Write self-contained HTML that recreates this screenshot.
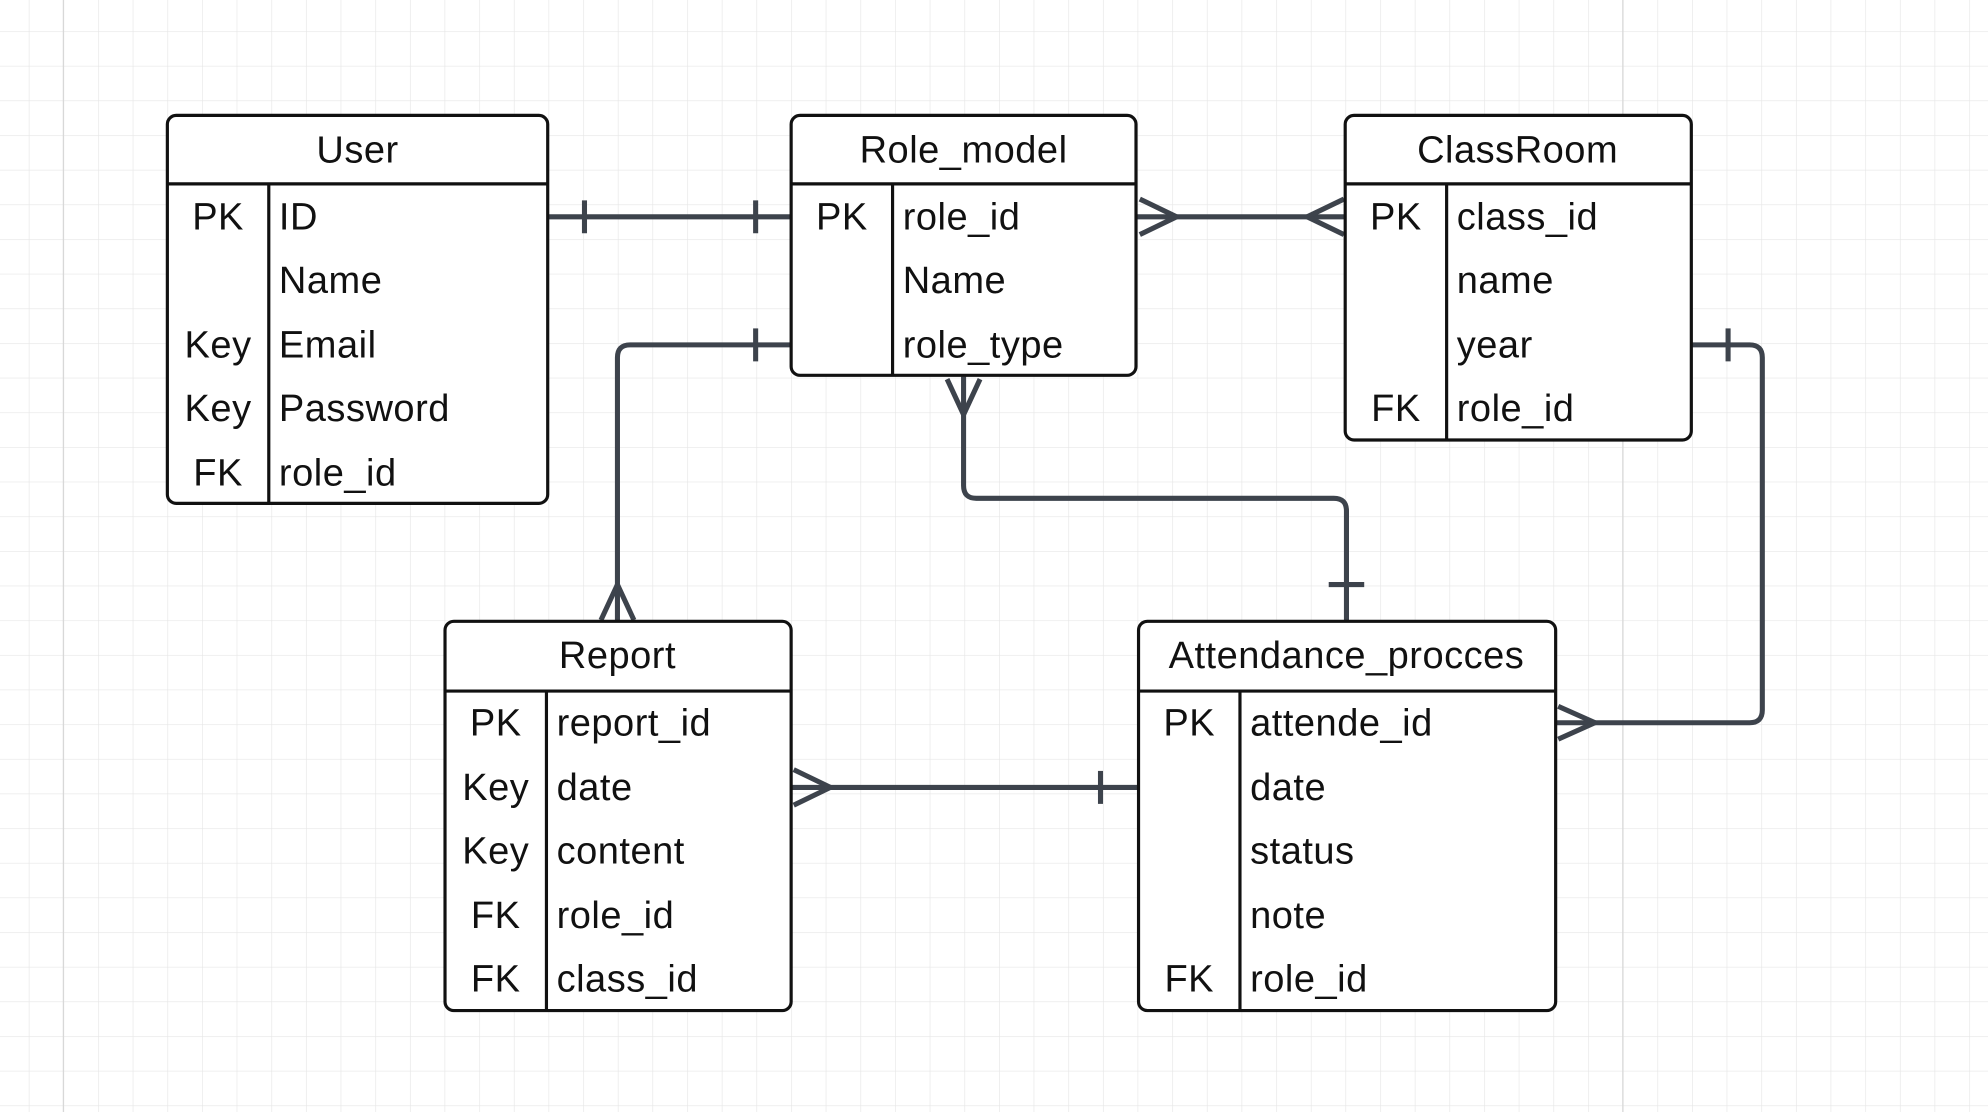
<!DOCTYPE html>
<html><head><meta charset="utf-8"><style>
html,body{margin:0;padding:0;background:#fff;}
svg{display:block;}
text{font-family:"Liberation Sans",sans-serif;font-size:30px;fill:#111;letter-spacing:0.4px;}
</style></head><body>
<svg width="1988" height="1112" viewBox="0 0 1568 877" preserveAspectRatio="none" xmlns="http://www.w3.org/2000/svg">
<defs>
<pattern id="g" x="22.7" y="24.6" width="27.33" height="27.33" patternUnits="userSpaceOnUse">
<path d="M0 0H27.33M0 0V27.33" stroke="#e6e6e6" stroke-width="1" fill="none"/>
</pattern>
</defs>
<rect width="1568" height="877" fill="#fff"/>
<rect width="1568" height="877" fill="url(#g)"/>
<line x1="50" y1="0" x2="50" y2="877" stroke="#d8d8d8"/>
<line x1="1280" y1="0" x2="1280" y2="877" stroke="#d8d8d8"/>

<g stroke="#3d434c" stroke-width="4" fill="none" stroke-linejoin="round">
<path d="M432 171H624"/><path d="M461 158V184M596 158V184"/>
<path d="M896 171H1061"/>
<path d="M899 157L928 171L899 185"/>
<path d="M1060 157L1031 171L1060 185"/>
<path d="M624 272H497Q487 272 487 282V490"/><path d="M596 259V285"/>
<path d="M474 489L487 461L500 489"/>
<path d="M760 297V383Q760 393 770 393H1052Q1062 393 1062 403V490"/>
<path d="M747 299L760 327L773 299"/>
<path d="M1048 461H1076"/>
<path d="M1334 272H1380Q1390 272 1390 282V560Q1390 570 1380 570H1227"/>
<path d="M1363 259V285"/>
<path d="M1229 557L1258 570L1229 583"/>
<path d="M624 621H898"/>
<path d="M626 607L655 621L626 635"/>
<path d="M868 608V634"/>
</g>

<g stroke="#111" stroke-width="2.5" fill="#fff">
<rect x="132" y="91" width="300" height="306" rx="7"/>
<rect x="624" y="91" width="272" height="205" rx="7"/>
<rect x="1061" y="91" width="273" height="256" rx="7"/>
<rect x="351" y="490" width="273" height="307" rx="7"/>
<rect x="898" y="490" width="329" height="307" rx="7"/>
</g>
<g stroke="#111" stroke-width="2.5">
<path d="M132 145H432M212 145V397"/>
<path d="M624 145H896M704 145V296"/>
<path d="M1061 145H1334M1141 145V347"/>
<path d="M351 545H624M431 545V797"/>
<path d="M898 545H1227M978 545V797"/>
</g>

<g text-anchor="middle">
<text x="282" y="128">User</text>
<text x="760" y="128">Role_model</text>
<text x="1197" y="128">ClassRoom</text>
<text x="487" y="527">Report</text>
<text x="1062" y="527">Attendance_procces</text>
<text x="172" y="181">PK</text><text x="172" y="282">Key</text><text x="172" y="332">Key</text><text x="172" y="383">FK</text>
<text x="664" y="181">PK</text>
<text x="1101" y="181">PK</text><text x="1101" y="332">FK</text>
<text x="391" y="580">PK</text><text x="391" y="631">Key</text><text x="391" y="681">Key</text><text x="391" y="732">FK</text><text x="391" y="782">FK</text>
<text x="938" y="580">PK</text><text x="938" y="782">FK</text>
</g>
<g>
<text x="220" y="181">ID</text><text x="220" y="231">Name</text><text x="220" y="282">Email</text><text x="220" y="332">Password</text><text x="220" y="383">role_id</text>
<text x="712" y="181">role_id</text><text x="712" y="231">Name</text><text x="712" y="282">role_type</text>
<text x="1149" y="181">class_id</text><text x="1149" y="231">name</text><text x="1149" y="282">year</text><text x="1149" y="332">role_id</text>
<text x="439" y="580">report_id</text><text x="439" y="631">date</text><text x="439" y="681">content</text><text x="439" y="732">role_id</text><text x="439" y="782">class_id</text>
<text x="986" y="580">attende_id</text><text x="986" y="631">date</text><text x="986" y="681">status</text><text x="986" y="732">note</text><text x="986" y="782">role_id</text>
</g>
</svg>
</body></html>
